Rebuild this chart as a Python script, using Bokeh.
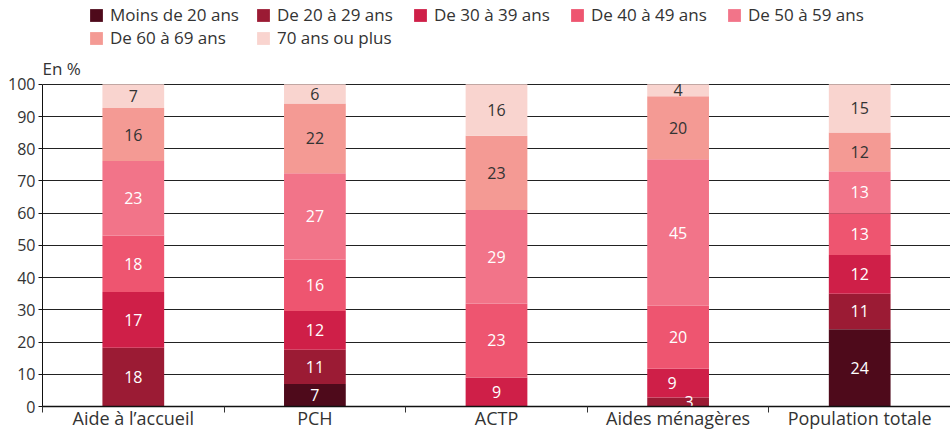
from bokeh.plotting import figure
from bokeh.models import ColumnDataSource, Legend, LegendItem, FixedTicker, Range1d, Label
from bokeh.core.properties import value
from bokeh.embed import file_html
from bokeh.resources import INLINE

categories = ["Aide à l’accueil", "PCH", "ACTP", "Aides ménagères", "Population totale"]
age_groups = ["Moins de 20 ans", "De 20 à 29 ans", "De 30 à 39 ans", "De 40 à 49 ans",
              "De 50 à 59 ans", "De 60 à 69 ans", "70 ans ou plus"]
y_ticks = [0, 10, 20, 30, 40, 50, 60, 70, 80, 90, 100]

# shares (in %) of each age group, per category
moins20 = [0, 7, 0, 0, 24]
de20_29 = [18.2, 10.6, 0, 2.8, 11]
de30_39 = [17.3, 12, 9, 8.9, 12]
de40_49 = [17.6, 16, 23, 19.6, 13]
de50_59 = [23.1, 26.8, 29, 45.4, 13]
de60_69 = [16.4, 21.6, 23, 19.6, 12]
plus70 = [7.4, 6, 16, 3.7, 15]

series = [moins20, de20_29, de30_39, de40_49, de50_59, de60_69, plus70]
colors = ["#4e0a1b", "#9b1b34", "#cf1f48", "#ee5570", "#f27489", "#f49a94", "#f9d4cf"]
FONT = "Open Sans"
TXT = "#333333"

n = len(categories)
xs = [i + 0.5 for i in range(n)]
keys = [f"g{i}" for i in range(len(series))]
data = {"x": xs}
for k, s in zip(keys, series):
    data[k] = s
src = ColumnDataSource(data)

p = figure(width=950, height=432, x_range=Range1d(0, n), y_range=Range1d(0, 126),
           output_backend="svg", toolbar_location=None, title=None,
           min_border_left=42, min_border_right=0, min_border_top=0, min_border_bottom=0)

renderers = p.vbar_stack(keys, x="x", width=0.34, color=colors, line_color=None, source=src)

# segment labels
lx, ly, lt, lc, lxo = [], [], [], [], []
for j in range(n):
    base = 0
    prev_small = False
    for i, s in enumerate(series):
        v = s[j]
        if v > 0:
            lx.append(xs[j])
            ly.append(base + v / 2)
            lt.append(str(int(v + 0.5)))
            lc.append(TXT if i >= 5 else "white")
            if v < 5 and i < 5:
                lxo.append(11)
                prev_small = True
            elif prev_small:
                lxo.append(-6)
                prev_small = False
            else:
                lxo.append(0)
        base += v
lsrc = ColumnDataSource(dict(x=lx, y=ly, t=lt, c=lc, xo=lxo))
p.text(x="x", y="y", text="t", text_color="c", x_offset="xo", source=lsrc,
       text_align="center", text_baseline="middle",
       text_font=value(FONT), text_font_size="16px")

# axes
p.xaxis.ticker = FixedTicker(ticks=xs, minor_ticks=[0, 1, 2, 3, 4])
p.xaxis.major_label_overrides = {x: c for x, c in zip(xs, categories)}
p.xaxis.major_tick_line_color = None
p.xaxis.major_tick_out = 0
p.xaxis.major_tick_in = 0
p.xaxis.minor_tick_in = 0
p.xaxis.minor_tick_out = 6
p.xaxis.minor_tick_line_color = "#333333"
p.xaxis.axis_line_color = "#111111"
p.xaxis.axis_line_width = 1.5
p.xaxis.major_label_standoff = -7
p.xaxis.major_label_text_font = FONT
p.xaxis.major_label_text_font_size = "18px"
p.xaxis.major_label_text_color = TXT

p.yaxis.ticker = FixedTicker(ticks=y_ticks)
p.yaxis.bounds = (y_ticks[0], y_ticks[-1])
p.yaxis.major_tick_in = 0
p.yaxis.major_tick_out = 4
p.yaxis.minor_tick_line_color = None
p.yaxis.axis_line_color = "#111111"
p.yaxis.major_tick_line_color = "#111111"
p.yaxis.major_label_standoff = 3
p.yaxis.major_label_text_font = FONT
p.yaxis.major_label_text_font_size = "16px"
p.yaxis.major_label_text_color = TXT

p.xgrid.visible = False
p.ygrid.ticker = FixedTicker(ticks=y_ticks)
p.ygrid.grid_line_color = "#222222"
p.ygrid.grid_line_width = 1
p.outline_line_color = None

unit = Label(x=0, y=y_ticks[-1], text="En %", text_font=FONT, text_font_size="17px",
             text_color=TXT, text_baseline="bottom", x_offset=0, y_offset=4)
p.add_layout(unit)

items = [LegendItem(label=g, renderers=[r]) for g, r in zip(age_groups, renderers)]
common = dict(glyph_width=16, glyph_height=16, label_standoff=6, spacing=0, padding=0,
              margin=0, border_line_color=None, background_fill_alpha=0,
              label_text_font=FONT, label_text_font_size="17px", label_text_color=TXT,
              label_height=18)
# first column (wider labels), then the remaining four columns
legend_a = Legend(items=[items[0], items[5]], orientation="vertical", location=(46, 357),
                  label_width=140, **common)
legend_b = Legend(items=items[1:5] + [items[6]], orientation="horizontal", ncols=4,
                  location=(213, 357), label_width=135, **common)
p.add_layout(legend_a)
p.add_layout(legend_b)

open("out.html", "w").write(file_html(p, INLINE))
